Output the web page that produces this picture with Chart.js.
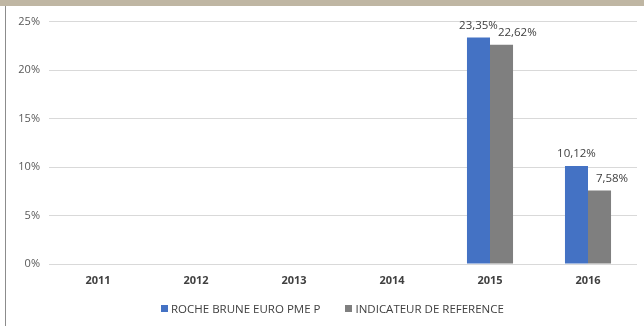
<!DOCTYPE html>
<html>
<head>
<meta charset="utf-8">
<script src="https://cdn.jsdelivr.net/npm/chart.js@4/dist/chart.umd.min.js"></script>
<style>
  html, body { margin: 0; padding: 0; background: #fff; }
  body { width: 644px; height: 326px; position: relative; overflow: hidden; font-family: "Open Sans", sans-serif; }
  #topbar { position: absolute; left: 0; top: 0; width: 644px; height: 6px; background: #bfb6a3; }
  #leftline { position: absolute; left: 5px; top: 6px; width: 1px; height: 320px; background: #8c8c8c; }
  #wrap { position: absolute; left: 6px; top: 6px; width: 638px; height: 320px; }
  #legend { position: absolute; left: 161px; top: 301px; display: flex; align-items: center;
            font-size: 11.5px; color: #404040; white-space: nowrap; }
  #legend .item { display: flex; align-items: center; margin-right: 25px; }
  #legend .box { width: 7px; height: 7px; margin-right: 3px; }
</style>
</head>
<body>
<div id="topbar"></div>
<div id="leftline"></div>
<div id="wrap"><canvas id="chart"></canvas></div>
<div id="legend"></div>
<script>
const years = ["2011", "2012", "2013", "2014", "2015", "2016"];
const fundValues = [null, null, null, null, 23.35, 10.12];
const benchValues = [null, null, null, null, 22.62, 7.58];
const seriesNames = ["ROCHE BRUNE EURO PME P", "INDICATEUR DE REFERENCE"];
const seriesColors = ["#4472c4", "#7f7f7f"];
const yMax = 25;
const yStep = 5;

// value labels above bars, pushed right if they would overlap the one before
const valueLabels = {
  id: "valueLabels",
  afterDatasetsDraw(chart) {
    const ctx = chart.ctx;
    ctx.save();
    ctx.font = "11.5px 'Open Sans', sans-serif";
    ctx.fillStyle = "#404040";
    ctx.textAlign = "center";
    ctx.textBaseline = "bottom";
    years.forEach((y, i) => {
      let prevRight = -Infinity;
      chart.data.datasets.forEach((ds, d) => {
        const v = ds.data[i];
        if (v == null) return;
        const bar = chart.getDatasetMeta(d).data[i];
        const txt = v.toFixed(2).replace(".", ",") + "%";
        const w = ctx.measureText(txt).width;
        let x = bar.x;
        if (x - w / 2 < prevRight) x = prevRight + w / 2;
        ctx.fillText(txt, x, bar.y - 6);
        prevRight = x + w / 2;
      });
    });
    ctx.restore();
  }
};

const chart = new Chart(document.getElementById("chart"), {
  type: "bar",
  data: {
    labels: years,
    datasets: seriesNames.map((name, k) => ({
      label: name,
      data: k === 0 ? fundValues : benchValues,
      backgroundColor: seriesColors[k],
    })),
  },
  options: {
    responsive: true,
    maintainAspectRatio: false,
    animation: false,
    categoryPercentage: 0.47,
    barPercentage: 1,
    layout: { padding: { top: 11, right: 7, left: 0, bottom: 0 } },
    plugins: {
      tooltip: { enabled: false },
      legend: { display: false },
    },
    scales: {
      x: {
        afterFit(scale) { scale.height = 62; },
        grid: { display: false, drawTicks: false },
        border: { display: false },
        ticks: {
          padding: 10,
          color: "#404040",
          font: { size: 11, weight: "bold", family: "'Open Sans', sans-serif" },
        },
      },
      y: {
        min: 0,
        max: yMax,
        afterFit(scale) { scale.width = 43; },
        grid: { color: "#d9d9d9", drawTicks: false },
        border: { display: false },
        ticks: {
          stepSize: yStep,
          padding: 9,
          color: "#595959",
          font: { size: 11, family: "'Open Sans', sans-serif" },
          callback: (v) => v + "%",
        },
      },
    },
  },
  plugins: [valueLabels],
});

// html legend from the dataset names/colours
const legendEl = document.getElementById("legend");
chart.data.datasets.forEach((ds) => {
  const item = document.createElement("div");
  item.className = "item";
  item.innerHTML = '<span class="box" style="background:' + ds.backgroundColor + '"></span>' + ds.label;
  legendEl.appendChild(item);
});
</script>
</body>
</html>
